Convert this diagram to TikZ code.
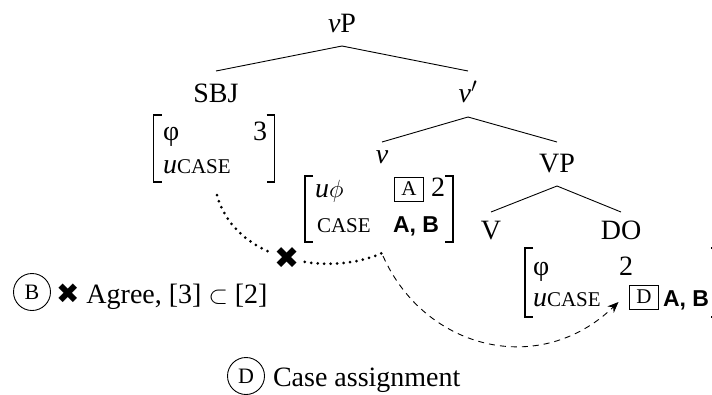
\documentclass[tikz,border=0pt]{standalone}
\usepackage{fontspec}
\setmainfont{Liberation Serif}
\setsansfont{Liberation Sans}
\newfontfamily\dejavu{DejaVu Sans}
\usetikzlibrary{arrows.meta}
\newcommand{\bigtxt}{\fontsize{28}{32}\selectfont}
\newcommand{\capsm}[1]{{\fontsize{21}{24}\selectfont #1}}
\newcommand{\bracketpair}[1]{%
  \draw[brk] ([xshift=8pt]#1.north west) -- (#1.north west) -- (#1.south west) -- ([xshift=8pt]#1.south west);
  \draw[brk] ([xshift=-8pt]#1.north east) -- (#1.north east) -- (#1.south east) -- ([xshift=-8pt]#1.south east);}
\begin{document}
\begin{tikzpicture}[x=1pt,y=-1pt,font=\bigtxt,
  every node/.style={inner sep=0pt,outer sep=0pt},
  lbl/.style={anchor=base},
  cell/.style={anchor=base west},
  brk/.style={line width=1.3pt},
  edge/.style={line width=0.9pt},
  tag/.style={draw,line width=0.9pt,minimum width=29pt,minimum height=24pt,font=\fontsize{21}{23}\selectfont},
  circ/.style={draw,circle,line width=0.9pt,minimum size=37pt,font=\fontsize{22}{24}\selectfont},
  dotline/.style={line width=3pt,line cap=round,dash pattern=on 0pt off 6.5pt},
  dashline/.style={line width=0.9pt,dash pattern=on 6pt off 5pt,-{Stealth[length=11pt,width=9pt]}},
  xmk/.style={font=\dejavu\fontsize{30}{32}\selectfont,fill=white,inner sep=2pt},
  boldab/.style={font=\sffamily\bfseries\fontsize{23}{26}\selectfont}]
\useasboundingbox (0,0) rectangle (712,394);
\clip (0,0) rectangle (712,394);
\fill[white] (0,0) rectangle (712,394);
% tree labels
\node[lbl] (vP) at (342,32) {\textit{ν}P};
\node[lbl] (SBJ) at (216,102) {SBJ};
\node[lbl] (vbar) at (468,102) {\textit{ν}$'$};
\node[lbl] (v) at (382,163) {\textit{ν}};
\node[lbl] (VP) at (557,172) {VP};
\node[lbl] (V) at (491,239) {V};
\node[lbl] (DO) at (621,239) {DO};
% tree edges
\draw[edge] ([yshift=-14pt]vP.base) -- ([yshift=31pt]SBJ.base);
\draw[edge] ([yshift=-14pt]vP.base) -- ([yshift=31pt]vbar.base);
\draw[edge] ([yshift=-15pt]vbar.base) -- ([yshift=21pt]v.base);
\draw[edge] ([yshift=-15pt]vbar.base) -- ([yshift=30pt]VP.base);
\draw[edge] ([yshift=-14pt]VP.base) -- ([yshift=27pt]V.base);
\draw[edge] ([yshift=-14pt]VP.base) -- ([yshift=27pt]DO.base);
% matrices
\node[minimum width=121pt,minimum height=67pt] (mS) at (214,148.5) {};
\node[minimum width=148pt,minimum height=66pt] (mN) at (379,209) {};
\node[minimum width=194pt,minimum height=69pt] (mD) at (622,282.5) {};
\bracketpair{mS}
\bracketpair{mN}
\bracketpair{mD}
% SBJ matrix
\node[cell] (sPhi) at (163,140) {φ};
\node[anchor=base east] (s3) at (267,140) {3};
\node[cell] (sCase) at (163,173) {\textit{u}\capsm{CASE}};
% v matrix
\node[cell] (nPhi) at (315,197) {\textit{u}$\phi$};
\node[tag] (boxA) at (409,189) {A};
\node[cell] (n2) at (431,196) {2};
\node[cell] (nCase) at (317,232) {\capsm{CASE}};
\node[cell,boldab] (nAB) at (393,232) {A, B};
% DO matrix
\node[cell] (dPhi) at (533,275) {φ};
\node[lbl] (d2) at (626,275) {2};
\node[cell] (dCase) at (533,306) {\textit{u}\capsm{CASE}};
\node[tag] (boxD) at (644,297) {D};
\node[cell,boldab] (dAB) at (663,306) {A, B};
% agree (failed) and case assignment
\draw[dotline] ([shift={(3pt,-13pt)}]mS.south) .. controls (235,262) and (330,277) .. ([shift={(3pt,-11pt)}]mN.south)
  node[pos=0.5,xmk] (xmark) {✖};
\draw[dashline] ([shift={(4pt,-14pt)}]mN.south) .. controls (425,350) and (540,378) .. ([shift={(-11pt,7pt)}]boxD.south west);
% legend
\node[circ] (cB) at (32,292) {B};
\node[cell] (agree) at (56,303) {{\dejavu\fontsize{28}{30}\selectfont ✖}\hspace{7pt}Agree, [3] $\subset$ [2]};
\node[circ] (cD) at (246,376) {D};
\node[cell] (caseas) at (273,386) {Case assignment};
\end{tikzpicture}
\end{document}
